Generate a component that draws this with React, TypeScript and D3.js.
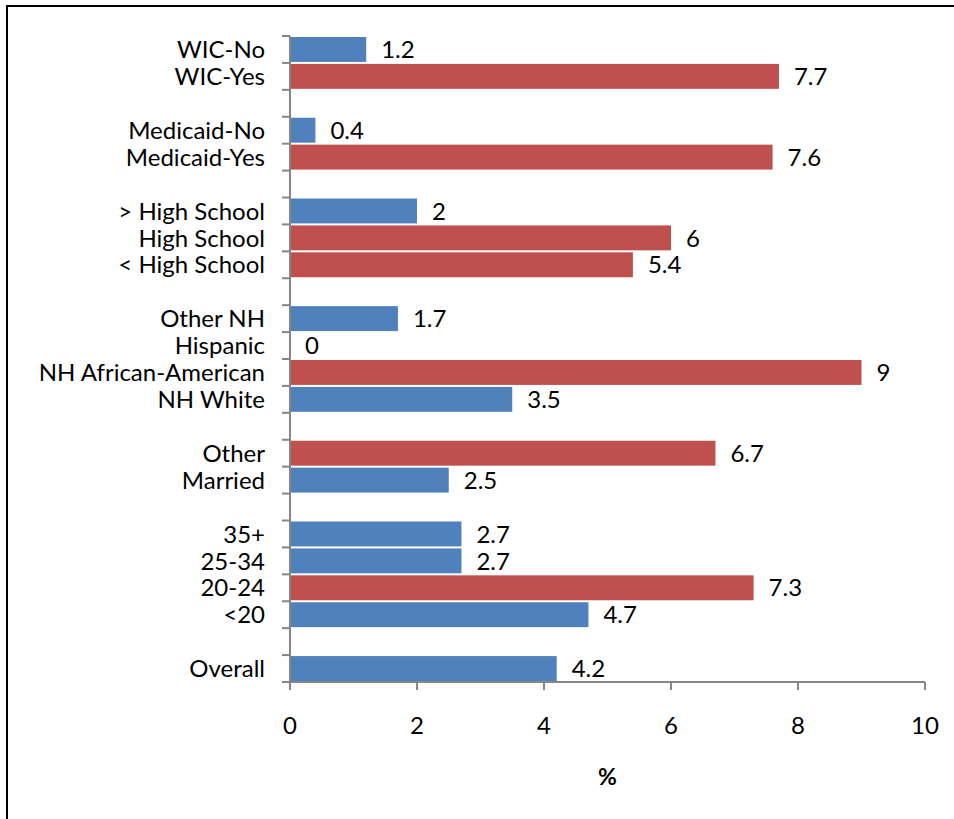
import React from "react";
import * as d3 from "d3";

const categories = [
  "WIC-No", "WIC-Yes", "",
  "Medicaid-No", "Medicaid-Yes", "",
  "> High School", "High School", "< High School", "",
  "Other NH", "Hispanic", "NH African-American", "NH White", "",
  "Other", "Married", "",
  "35+", "25-34", "20-24", "<20", "",
  "Overall",
];
const values: (number | null)[] = [
  1.2, 7.7, null,
  0.4, 7.6, null,
  2, 6, 5.4, null,
  1.7, 0, 9, 3.5, null,
  6.7, 2.5, null,
  2.7, 2.7, 7.3, 4.7, null,
  4.2,
];
const highlighted = [
  false, true, false,
  false, true, false,
  false, true, true, false,
  false, false, true, false, false,
  true, false, false,
  false, false, true, false, false,
  false,
];
const xTicks = [0, 2, 4, 6, 8, 10];
const xTitle = "%";

const W = 954;
const H = 819;
const BLUE = "#4F81BD";
const RED = "#C0504D";
const AXIS = "#868686";
const FONT = "Lato, 'Open Sans', sans-serif";
const FS = 24;

export default function App() {
  const keys = categories.map((c, i) => `${i}:${c}`);
  const x = d3.scaleLinear().domain([0, 10]).range([290, 925]);
  const y = d3.scaleBand<string>().domain(keys).range([36, 682]).padding(0);
  const bw = y.bandwidth();
  const boundaries = d3.range(keys.length + 1).map((i) => 36 + i * bw);
  const axisY = 682;

  return (
    <svg
      width={W}
      height={H}
      viewBox={`0 0 ${W} ${H}`}
      style={{ position: "absolute", left: 0, top: 0, display: "block", background: "#fff" }}
    >
      {/* frame */}
      <rect x={7} y={6} width={W + 20} height={H + 20} fill="none" stroke="#000" strokeWidth={2} />

      {/* bars */}
      {keys.map((k, i) => {
        const v = values[i];
        if (v === null) return null;
        const y0 = (y(k) as number) + 1;
        return (
          <g key={k}>
            {v > 0 && (
              <rect
                x={x(0)}
                y={y0}
                width={x(v) - x(0)}
                height={bw - 2}
                fill={highlighted[i] ? RED : BLUE}
              />
            )}
            <text
              x={x(v) + 15}
              y={y0 + (bw - 2) / 2}
              dy="0.36em"
              fontFamily={FONT}
              fontSize={FS}
              fill="#000"
            >
              {String(v)}
            </text>
          </g>
        );
      })}

      {/* y axis */}
      <line x1={290} x2={290} y1={36} y2={axisY + 8} stroke={AXIS} strokeWidth={2} />
      {boundaries.map((b, i) => (
        <line key={`yt${i}`} x1={282} x2={290} y1={b} y2={b} stroke={AXIS} strokeWidth={2} />
      ))}
      {keys.map((k, i) => (
        <text
          key={`yl${k}`}
          x={265}
          y={(y(k) as number) + bw / 2}
          dy="0.36em"
          textAnchor="end"
          fontFamily={FONT}
          fontSize={FS}
          fill="#000"
        >
          {categories[i]}
        </text>
      ))}

      {/* x axis */}
      <line x1={290} x2={925} y1={axisY} y2={axisY} stroke={AXIS} strokeWidth={2} />
      {xTicks.map((t) => (
        <g key={`xt${t}`}>
          <line x1={x(t)} x2={x(t)} y1={axisY} y2={axisY + 8} stroke={AXIS} strokeWidth={2} />
          <text
            x={x(t)}
            y={725}
            dy="0.36em"
            textAnchor="middle"
            fontFamily={FONT}
            fontSize={FS}
            fill="#000"
          >
            {t}
          </text>
        </g>
      ))}
      <text
        x={(x(0) + x(10)) / 2}
        y={777}
        dy="0.36em"
        textAnchor="middle"
        fontFamily={FONT}
        fontSize={23}
        fontWeight="bold"
        fill="#000"
      >
        {xTitle}
      </text>
    </svg>
  );
}
